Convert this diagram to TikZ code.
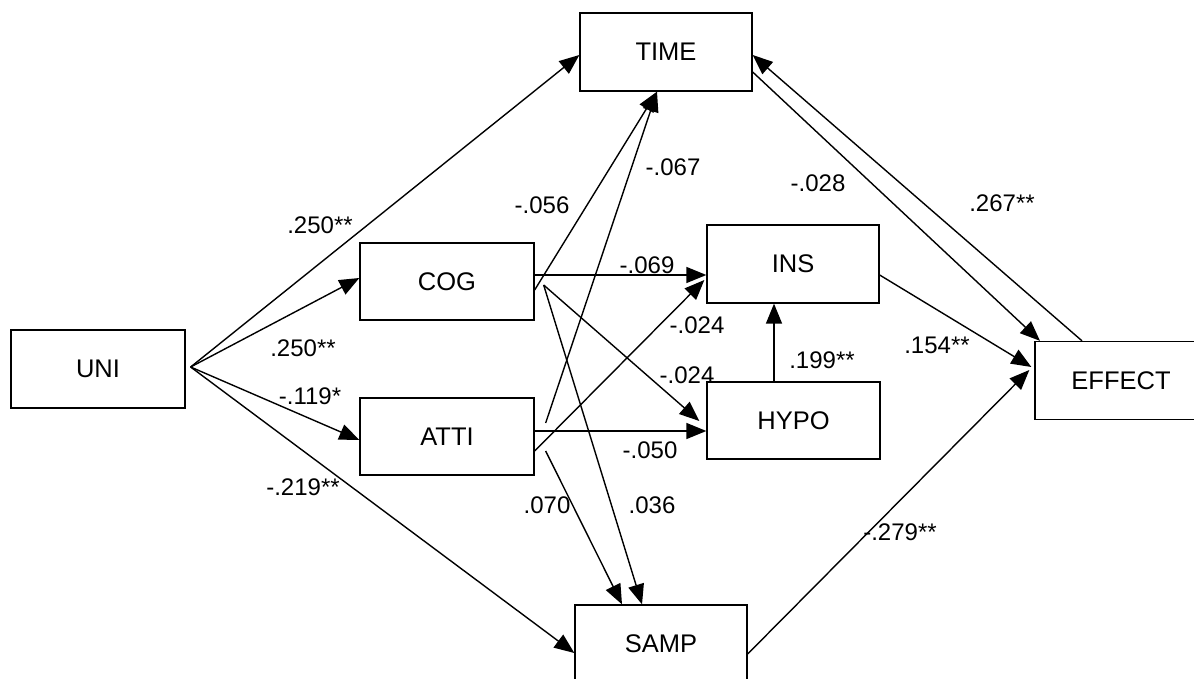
\documentclass[tikz,border=0pt]{standalone}
\usepackage{fontspec}
\setmainfont{Liberation Sans}
\usetikzlibrary{arrows.meta}
\begin{document}
\begin{tikzpicture}[x=1pt,y=-1pt,
  box/.style={draw,line width=1.3pt,minimum width=172pt,minimum height=78pt,inner sep=0pt,font=\fontsize{25.5}{30}\selectfont},
  lab/.style={font=\fontsize{24}{28}\selectfont,inner sep=0pt},
  arr/.style={line width=1.4pt,-{Triangle[length=20pt,width=16pt]}}]
\useasboundingbox (0,0) rectangle (1194,679);
\clip (0,0) rectangle (1194,679);
\node[box,minimum width=174pt] (uni) at (98,369) {UNI};
\node[box,minimum width=174pt,minimum height=77pt] (cog) at (447,281.5) {COG};
\node[box,minimum width=174pt,minimum height=77pt] (atti) at (447,436.5) {ATTI};
\node[box] (time) at (666,52) {TIME};
\node[box] (ins) at (793,264) {INS};
\node[box,minimum width=173pt,minimum height=77pt] (hypo) at (793.5,420.5) {HYPO};
\node[box] (samp) at (661,644) {SAMP};
\node[box] (effect) at (1121,380.5) {EFFECT};
\coordinate (uo) at ([xshift=5pt,yshift=2pt]uni.east);
% from UNI
\draw[arr] (uo) -- ([yshift=-3pt]time.west);
\draw[arr] (uo) -- ([yshift=3.5pt]cog.west);
\draw[arr] (uo) -- ([yshift=-3.5pt]atti.west);
\draw[arr] (uo) -- ([yshift=-9pt]samp.west);
% to TIME
\draw[arr] ([yshift=-8.5pt]cog.east) -- ([xshift=-9pt]time.south);
\draw[arr] ([xshift=11pt,yshift=13.5pt]atti.east) -- ([xshift=-9pt]time.south);
% from COG
\draw[arr] ([yshift=6.5pt]cog.east) -- ([yshift=-11pt]ins.west);
\draw[arr] ([xshift=9pt,yshift=-3.5pt]cog.east) -- ([xshift=-7pt,yshift=-0.5pt]hypo.west);
\draw[arr] ([xshift=9pt,yshift=-3.5pt]cog.east) -- ([xshift=-19pt]samp.north);
% from ATTI
\draw[arr] ([xshift=11pt,yshift=-14.5pt]atti.east) -- ([xshift=-39pt]samp.north);
\draw[arr] ([yshift=-14.5pt]atti.east) -- ([xshift=-2pt,yshift=-16pt]ins.west);
\draw[arr] ([yshift=5.5pt]atti.east) -- ([yshift=-10.5pt]hypo.west);
% HYPO -> INS
\draw[arr] ([xshift=-19.5pt]hypo.north) -- ([xshift=-19pt]ins.south);
% to EFFECT
\draw[arr] ([yshift=-11pt]ins.east) -- ([xshift=-3pt,yshift=13.5pt]effect.west);
\draw[arr] ([yshift=-10pt]samp.east) -- ([xshift=-5pt,yshift=10.5pt]effect.west);
\draw[arr] ([yshift=-20pt]time.east) -- ([xshift=-81pt]effect.north);
\draw[arr] ([xshift=-39pt]effect.north) -- ([yshift=-3pt]time.east);
% labels
\node[lab] (l1) at (320,225) {.250**};
\node[lab] (l2) at (303,348) {.250**};
\node[lab] (l3) at (310,396) {-.119*};
\node[lab] (l4) at (303,487) {-.219**};
\node[lab] (l5) at (542,205) {-.056};
\node[lab] (l6) at (673,167) {-.067};
\node[lab] (l7) at (818,183) {-.028};
\node[lab] (l8) at (1002,203) {.267**};
\node[lab] (l9) at (647,265) {-.069};
\node[lab] (l10) at (697,325) {-.024};
\node[lab] (l11) at (687,375) {-.024};
\node[lab] (l12) at (650,450) {-.050};
\node[lab] (l13) at (822,360) {.199**};
\node[lab] (l14) at (937,345) {.154**};
\node[lab] (l15) at (547,505) {.070};
\node[lab] (l16) at (652,505) {.036};
\node[lab] (l17) at (900,532) {-.279**};
\end{tikzpicture}
\end{document}
